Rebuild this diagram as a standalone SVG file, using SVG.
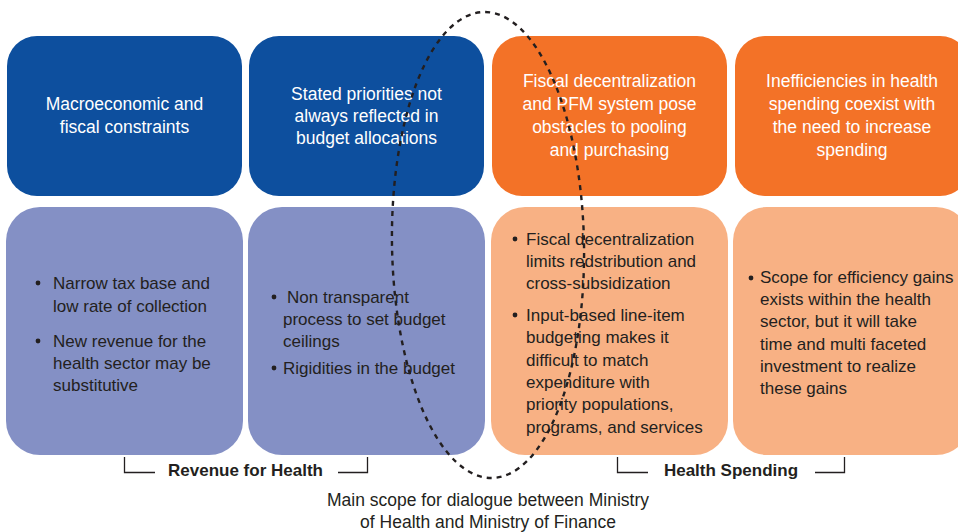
<svg xmlns="http://www.w3.org/2000/svg" width="958" height="532" viewBox="0 0 958 532">
<style>
.t{font-family:"Liberation Sans",Arial,sans-serif;font-size:17.5px;fill:#fff;text-anchor:middle}
.b{font-family:"Liberation Sans",Arial,sans-serif;font-size:17px;fill:#231f20}
.h{font-family:"Liberation Sans",Arial,sans-serif;font-size:17px;font-weight:bold;fill:#231f20;text-anchor:middle}
.c{font-family:"Liberation Sans",Arial,sans-serif;font-size:17.5px;fill:#231f20;text-anchor:middle}
.blue{fill:#0d4f9e}
.orange{fill:#f37227}
.lav{fill:#8490c5}
.lor{fill:#f8b184}
.dot{fill:#231f20}
.br{fill:none;stroke:#231f20;stroke-width:1.3}
</style>
<rect width="958" height="532" fill="#fff"/>
<g id="top1"><rect class="blue" x="7" y="36" width="235" height="160" rx="30"/>
<text class="t" x="124.5"><tspan x="124.5" y="110">Macroeconomic and</tspan><tspan x="124.5" y="133">fiscal constraints</tspan></text></g>
<g id="top2"><rect class="blue" x="249" y="36" width="235" height="160" rx="30"/>
<text class="t"><tspan x="366.5" y="100">Stated priorities not</tspan><tspan x="366.5" y="122">always reflected in</tspan><tspan x="366.5" y="144">budget allocations</tspan></text></g>
<g id="top3"><rect class="orange" x="492" y="36" width="235" height="160" rx="30"/>
<text class="t"><tspan x="609.5" y="87">Fiscal decentralization</tspan><tspan x="609.5" y="110">and PFM system pose</tspan><tspan x="609.5" y="133">obstacles to pooling</tspan><tspan x="609.5" y="156">and purchasing</tspan></text></g>
<g id="top4"><rect class="orange" x="735" y="36" width="235" height="160" rx="30"/>
<text class="t"><tspan x="852" y="87">Inefficiencies in health</tspan><tspan x="852" y="110">spending coexist with</tspan><tspan x="852" y="133">the need to increase</tspan><tspan x="852" y="156">spending</tspan></text></g>

<g id="bottom1"><rect class="lav" x="6" y="207" width="237" height="248" rx="34"/>
<circle class="dot" cx="38" cy="283" r="2.4"/><circle class="dot" cx="38" cy="341" r="2.4"/>
<text class="b"><tspan x="53" y="289">Narrow tax base and</tspan><tspan x="53" y="312">low rate of collection</tspan><tspan x="53" y="347">New  revenue for the</tspan><tspan x="53" y="369">health sector may be</tspan><tspan x="53" y="391">substitutive</tspan></text></g>
<g id="bottom2"><rect class="lav" x="248" y="207" width="237" height="248" rx="34"/>
<circle class="dot" cx="274" cy="297" r="2.4"/><circle class="dot" cx="274" cy="368" r="2.4"/>
<text class="b"><tspan x="287" y="303">Non transparent</tspan><tspan x="283" y="325">process to set budget</tspan><tspan x="283" y="347">ceilings</tspan><tspan x="283" y="374">Rigidities in the budget</tspan></text></g>
<g id="bottom3"><rect class="lor" x="491" y="207" width="237" height="248" rx="34"/>
<circle class="dot" cx="515" cy="239" r="2.4"/><circle class="dot" cx="515" cy="315" r="2.4"/>
<text class="b"><tspan x="526" y="245">Fiscal decentralization</tspan><tspan x="526" y="267">limits redstribution and</tspan><tspan x="526" y="289">cross-subsidization</tspan><tspan x="526" y="321">Input-based line-item</tspan><tspan x="526" y="343">budgeting makes it</tspan><tspan x="526" y="366">difficult to match</tspan><tspan x="526" y="388">expenditure with</tspan><tspan x="526" y="410">priority populations,</tspan><tspan x="526" y="433">programs, and services</tspan></text></g>
<g id="bottom4"><rect class="lor" x="733" y="207" width="237" height="248" rx="34"/>
<circle class="dot" cx="751" cy="278" r="2.4"/>
<text class="b"><tspan x="760" y="283">Scope for efficiency gains</tspan><tspan x="760" y="305">exists within the health</tspan><tspan x="760" y="327">sector, but it will take</tspan><tspan x="760" y="350">time and multi faceted</tspan><tspan x="760" y="372">investment to realize</tspan><tspan x="760" y="394">these gains</tspan></text></g>

<g id="brackets">
<path class="br" d="M124.5 457V472.5H155M338 472.5H367.5V457"/>
<text class="h" x="245.5" y="476">Revenue for Health</text>
<path class="br" d="M617.5 457V472.5H648M815 472.5H844.5V457"/>
<text class="h" x="731" y="476">Health Spending</text>
</g>
<g id="scope">
<ellipse cx="488" cy="245" rx="96" ry="233" fill="none" stroke="#231f20" stroke-width="2.4" stroke-dasharray="5 5" transform="rotate(-1 488 245)"/>
<text class="c"><tspan x="488" y="506">Main scope for dialogue between Ministry</tspan><tspan x="488" y="528">of Health and Ministry of Finance</tspan></text>
</g>
</svg>
